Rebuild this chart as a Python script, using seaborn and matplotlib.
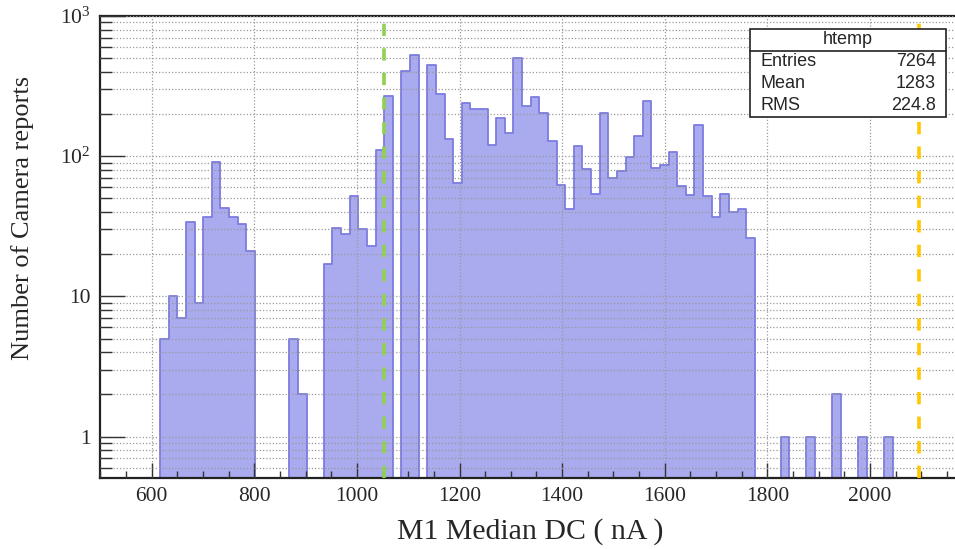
import numpy as np
import pandas as pd
import matplotlib
matplotlib.use("Agg")
import matplotlib.pyplot as plt
import seaborn as sns
from matplotlib.patches import Rectangle
from matplotlib.lines import Line2D
from matplotlib.ticker import FixedLocator, MultipleLocator, NullFormatter, FixedFormatter

# ---------------- data ----------------
hist_min = 482.0
bin_width = 16.8
n_bins = 100
counts = [
    0, 0, 0, 0, 0, 0, 0, 0,
    5, 10, 7, 34, 9, 37, 91, 43, 37, 33, 21,
    0, 0, 0, 0,
    5, 2,
    0, 0,
    17, 31, 28, 52, 30, 23, 110, 268,
    0,
    403, 530,
    0,
    447, 276, 132, 64, 241, 218, 218, 121, 186, 147,
    499, 229, 266, 202, 128, 62, 42, 118, 81, 54,
    202, 70, 79, 99, 139, 246, 83, 87, 108, 61,
    53, 168, 52, 37, 54, 40, 42, 26,
    0, 0, 0,
    1, 0, 0, 1, 0, 0, 2, 0, 0, 1, 0, 0, 1,
    0, 0, 0, 0, 0, 0, 0,
]
line_green_x = 1053
line_yellow_x = 2096
stats_labels = ["Entries", "Mean", "RMS"]
stats_values = ["7264", "1283", "224.8"]
stats_title = "htemp"
x_title = "M1 Median DC ( nA )"
y_title = "Number of Camera reports"
y_ticks = [1, 10, 100, 1000]
y_ticklabels = ["1", "10", r"$\mathregular{10^{2}}$", r"$\mathregular{10^{3}}$"]

edges = [hist_min + bin_width * i for i in range(n_bins + 1)]
centers = [hist_min + bin_width * (i + 0.5) for i in range(n_bins)]
df = pd.DataFrame({"dc": centers, "n": counts})

# ---------------- figure ----------------
sns.set_style("white")
plt.rcParams["font.family"] = ["Liberation Serif", "DejaVu Serif"]
plt.rcParams["mathtext.fontset"] = "custom"
plt.rcParams["mathtext.rm"] = "Liberation Serif"

W, H = 955, 549
fig = plt.figure(figsize=(W / 100, H / 100), dpi=100)
ax_left = 100.4 / W
ax_bottom = 1 - 478.3 / H
ax_top = 1 - 16.0 / H
x_lo, x_hi = 500, 2170
px_per_unit = 0.513
ax_width = (x_hi - x_lo) * px_per_unit / W
ax = fig.add_axes([ax_left, ax_bottom, ax_width, ax_top - ax_bottom])

sns.histplot(data=df, x="dc", weights="n", bins=edges, element="step", fill=True,
             facecolor="#aaaaee", edgecolor="#7c7ce0", linewidth=1.3, alpha=1.0,
             ax=ax, legend=False)

ax.set_yscale("log")
ax.set_xlim(x_lo, x_hi)
ax.set_ylim(0.504, 1000)

# dashed reference lines
dash = (0, (3.4, 3.4))
ax.axvline(line_green_x, color="#8fd150", lw=2.6, linestyle=dash, zorder=4)
ax.axvline(line_yellow_x, color="#ffc800", lw=2.6, linestyle=dash, zorder=4)

# ticks
ax.xaxis.set_major_locator(MultipleLocator(200))
ax.xaxis.set_minor_locator(MultipleLocator(50))
ax.yaxis.set_major_locator(FixedLocator(y_ticks))
ax.yaxis.set_major_formatter(FixedFormatter(y_ticklabels))
minor_y = [m * 10.0 ** e for e in range(-1, 3) for m in range(2, 10)]
ax.yaxis.set_minor_locator(FixedLocator(minor_y))
ax.yaxis.set_minor_formatter(NullFormatter())

ax.tick_params(axis="x", which="major", direction="in", length=10.8, width=1.0,
               color="#333333", labelsize=15.5, pad=6, bottom=True, top=False)
ax.tick_params(axis="x", which="minor", direction="in", length=5, width=1.0,
               color="#333333", bottom=True, top=False)
ax.tick_params(axis="y", which="major", direction="in", length=18, width=1.0,
               color="#333333", labelsize=15.5, pad=7, left=True, right=False)
ax.tick_params(axis="y", which="minor", direction="in", length=8.6, width=1.0,
               color="#333333", left=True, right=False)
for lab in ax.get_xticklabels() + ax.get_yticklabels():
    lab.set_fontfamily("Liberation Serif")

# grid above fill
ax.set_axisbelow(False)
grid_kw = dict(color="#9a9a9a", linestyle=(0, (1, 1.6)), linewidth=0.9)
ax.xaxis.grid(True, which="major", **grid_kw)
ax.xaxis.grid(False, which="minor")
ax.yaxis.grid(True, which="both", **grid_kw)

for side in ["left", "bottom", "top", "right"]:
    ax.spines[side].set_linewidth(1.6)
    ax.spines[side].set_color("#222222")

ax.set_xlabel("")
ax.set_ylabel("")

# axis titles
fig.text(530 / W, 1 - 531.7 / H, x_title, ha="center", va="center", fontsize=21.5,
         family="Liberation Serif")
fig.text(23 / W, 1 - 218 / H, y_title, ha="center", va="center", fontsize=19,
         rotation=90, family="Liberation Serif")

# stats box
bx0, bx1, by0, by1, bdiv = 750, 946, 28.7, 117.3, 50.7
fig.patches.append(Rectangle((bx0 / W, 1 - by1 / H), (bx1 - bx0) / W, (by1 - by0) / H,
                             transform=fig.transFigure, facecolor="white",
                             edgecolor="#222222", lw=1.2, zorder=10))
fig.lines.append(Line2D([bx0 / W, bx1 / W], [1 - bdiv / H, 1 - bdiv / H],
                        transform=fig.transFigure, color="#222222", lw=1.2, zorder=11))
fig.text((bx0 + bx1) / 2 / W, 1 - 39.7 / H, stats_title, ha="center", va="center",
         fontsize=13, family="Liberation Sans", zorder=12)
row_y = [62, 84, 106]
for lab, val, yy in zip(stats_labels, stats_values, row_y):
    fig.text(760 / W, 1 - yy / H, lab, ha="left", va="center", fontsize=13,
             family="Liberation Sans", zorder=12)
    fig.text(936 / W, 1 - yy / H, val, ha="right", va="center", fontsize=13,
             family="Liberation Sans", zorder=12)

fig.savefig("out.png", dpi=100)
